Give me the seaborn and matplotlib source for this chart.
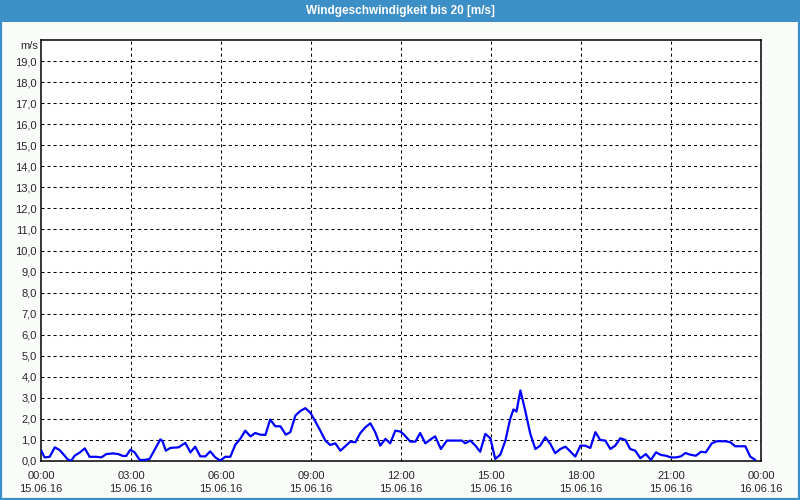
import matplotlib
matplotlib.use("Agg")
import matplotlib.pyplot as plt
from matplotlib.patches import Rectangle
import seaborn as sns
import pandas as pd

title = "Windgeschwindigkeit bis 20 [m/s]"
unit_label = "m/s"

hours = [0.0, 0.12, 0.29, 0.46, 0.62, 0.79, 0.9, 1.01, 1.12, 1.29, 1.46, 1.62, 1.84, 2.01, 2.18, 2.4,
         2.57, 2.73, 2.84, 2.98, 3.12, 3.29, 3.46, 3.62, 3.98, 4.05, 4.16, 4.31, 4.59, 4.7, 4.81, 4.98,
         5.14, 5.31, 5.48, 5.64, 5.81, 5.98, 6.14, 6.31, 6.48, 6.64, 6.81, 6.98, 7.14, 7.31, 7.48, 7.64,
         7.81, 7.98, 8.16, 8.31, 8.48, 8.64, 8.81, 8.98, 9.14, 9.31, 9.48, 9.64, 9.81, 9.98, 10.14, 10.31,
         10.48, 10.64, 10.81, 10.98, 11.14, 11.31, 11.48, 11.64, 11.81, 11.98, 12.1, 12.31, 12.48, 12.64,
         12.81, 12.98, 13.14, 13.33, 13.53, 14.03, 14.14, 14.31, 14.48, 14.64, 14.81, 14.98, 15.14, 15.31,
         15.48, 15.64, 15.75, 15.85, 15.98, 16.14, 16.31, 16.48, 16.64, 16.81, 16.98, 17.14, 17.31, 17.48,
         17.64, 17.81, 17.98, 18.14, 18.31, 18.48, 18.64, 18.81, 18.98, 19.14, 19.31, 19.48, 19.64, 19.81,
         19.98, 20.16, 20.33, 20.5, 20.66, 20.83, 21.0, 21.16, 21.33, 21.48, 21.64, 21.83, 22.0, 22.16,
         22.36, 22.53, 22.81, 22.98, 23.14, 23.48, 23.64, 23.81]
speed = [0.52, 0.17, 0.2, 0.65, 0.52, 0.25, 0.06, 0.02, 0.25, 0.4, 0.6, 0.2, 0.2, 0.17, 0.33, 0.36,
         0.33, 0.24, 0.24, 0.54, 0.41, 0.05, 0.05, 0.1, 1.03, 0.94, 0.49, 0.62, 0.65, 0.76, 0.86, 0.41,
         0.68, 0.22, 0.22, 0.46, 0.17, 0.02, 0.2, 0.2, 0.78, 1.05, 1.44, 1.17, 1.33, 1.25, 1.24, 1.97,
         1.65, 1.65, 1.25, 1.37, 2.16, 2.37, 2.51, 2.29, 1.89, 1.44, 0.97, 0.76, 0.84, 0.49, 0.7, 0.92,
         0.89, 1.32, 1.6, 1.79, 1.37, 0.73, 1.05, 0.84, 1.44, 1.4, 1.25, 0.92, 0.92, 1.33,
         0.84, 1.02, 1.17, 0.57, 0.97, 0.97, 0.84, 0.97, 0.73, 0.44, 1.29, 1.08, 0.1, 0.3,
         0.97, 2.0, 2.45, 2.35, 3.35, 2.4, 1.29, 0.57, 0.73, 1.13, 0.81, 0.37, 0.57, 0.68,
         0.46, 0.21, 0.73, 0.73, 0.62, 1.37, 1.0, 0.97, 0.57, 0.73, 1.08, 1.0, 0.57, 0.49,
         0.13, 0.33, 0.05, 0.41, 0.29, 0.25, 0.17, 0.17, 0.22, 0.38, 0.3, 0.25, 0.44, 0.41,
         0.84, 0.94, 0.94, 0.89, 0.7, 0.7, 0.21, 0.05]

x_tick_hours = [0, 3, 6, 9, 12, 15, 18, 21, 24]
x_tick_times = ["00:00", "03:00", "06:00", "09:00", "12:00", "15:00", "18:00", "21:00", "00:00"]
x_tick_dates = ["15.06.16"] * 8 + ["16.06.16"]
y_ticks = list(range(0, 20))

df = pd.DataFrame({"hour": hours, "speed": speed})

sns.set_style("white")
plt.rcParams["font.family"] = ["Liberation Sans", "DejaVu Sans"]

fig = plt.figure(figsize=(8, 5), dpi=100)
fig.patch.set_facecolor("#fafcfa")

# title bar and border
fig.patches.append(Rectangle((0, 478 / 500), 1, 22 / 500, transform=fig.transFigure,
                             facecolor="#3d8fc7", edgecolor="none", zorder=0))
fig.patches.append(Rectangle((0.001, 0.002), 0.9975, 0.996, transform=fig.transFigure,
                             facecolor="none", edgecolor="#3d8fc7", linewidth=1.6, zorder=5))
fig.text(0.5, 489 / 500, title, color="white", fontsize=8.5, fontweight="bold",
         ha="center", va="center")

ax = fig.add_axes([41 / 800, 39 / 500, 720 / 800, 421 / 500])
ax.set_facecolor("white")

sns.lineplot(data=df, x="hour", y="speed", ax=ax, color="#0000ff", linewidth=1.6, zorder=3)

ax.set_xlim(0, 24)
ax.set_ylim(0, 20)
ax.set_xticks(x_tick_hours)
ax.set_xticklabels([f"{t}\n{d}" for t, d in zip(x_tick_times, x_tick_dates)], linespacing=1.45)
ax.set_xticks(range(0, 25), minor=True)
ax.set_yticks(y_ticks)
ax.set_yticklabels([f"{v},0" for v in y_ticks])
ax.tick_params(axis="x", which="both", direction="out", length=4, width=0.8, color="black",
               labelsize=8, pad=3)
ax.tick_params(axis="y", which="both", length=0, labelsize=8, pad=3)
ax.set_xlabel("")
ax.set_ylabel("")

for v in y_ticks[1:]:
    ax.axhline(v, color="black", linewidth=0.75, linestyle=(0, (2.9, 2.9)), zorder=1)
for h in x_tick_hours[1:-1]:
    ax.axvline(h, color="black", linewidth=0.75, linestyle=(0, (2.9, 2.9)), zorder=1)

for s in ax.spines.values():
    s.set_visible(True)
    s.set_color("black")
    s.set_linewidth(1.1)

ax.text(-0.004, 19.7, unit_label, transform=ax.get_yaxis_transform(), ha="right", va="center",
        fontsize=8)

fig.savefig("out.png", dpi=100, facecolor=fig.get_facecolor())
